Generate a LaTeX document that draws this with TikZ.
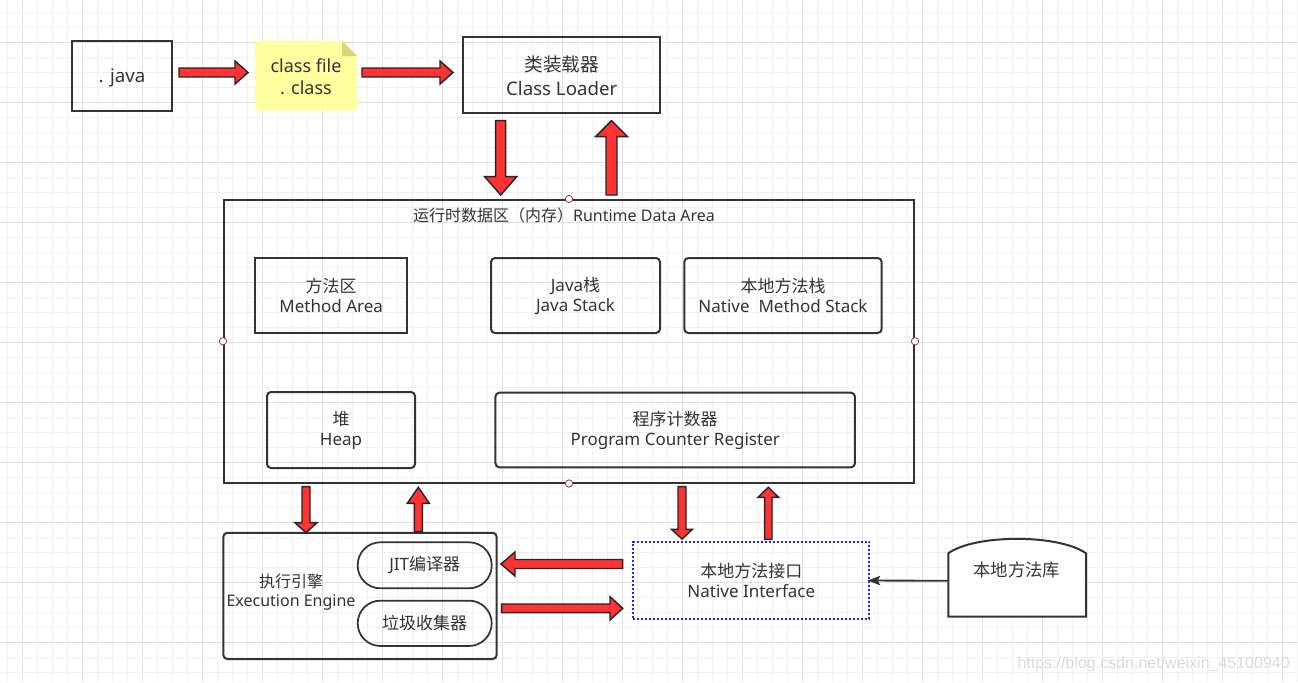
\documentclass[tikz,border=0pt]{standalone}
\usepackage{fontspec}
\setmainfont{Noto Sans}
\newfontfamily\cjk{Noto Sans CJK SC}
\newfontfamily\wmfont{Liberation Sans}
\usetikzlibrary{arrows.meta}
\definecolor{ink}{HTML}{333333}
\definecolor{fatred}{HTML}{FF3333}
\definecolor{notey}{HTML}{FFFFA0}
\definecolor{notefold}{HTML}{D6D67C}
\definecolor{gridmin}{HTML}{F0F0F0}
\definecolor{gridmaj}{HTML}{E0E0E0}
\definecolor{niblue}{HTML}{1F1FFF}
\definecolor{ptred}{HTML}{A33333}
\definecolor{wm}{HTML}{DADADA}
\newcommand{\hfat}[6]{\draw[fat] (#1,{#4-#5}) -- (#2,{#4-#5}) -- (#2,{#4-#6}) -- (#3,#4) -- (#2,{#4+#6}) -- (#2,{#4+#5}) -- (#1,{#4+#5}) -- cycle;}
\newcommand{\vfat}[6]{\draw[fat] ({#4-#5},#1) -- ({#4-#5},#2) -- ({#4-#6},#2) -- (#4,#3) -- ({#4+#6},#2) -- ({#4+#5},#2) -- ({#4+#5},#1) -- cycle;}
\begin{document}
\begin{tikzpicture}[x=0.75pt,y=-0.75pt,
  box/.style={draw=ink, line width=1.5pt, text=ink, align=center, inner sep=0pt},
  sqbox/.style={box},
  rbox/.style={box, rounded corners=3pt},
  pill/.style={box, line width=1.3pt, rounded corners=17pt},
  bigtxt/.style={font=\fontsize{14}{18}\selectfont},
  midtxt/.style={font=\fontsize{12.75}{15}\selectfont},
  smtxt/.style={font=\fontsize{12}{14.5}\selectfont},
  fat/.style={fill=fatred, draw=black!85, line width=1.1pt, line join=miter},
  cpt/.style={circle, draw=ptred, fill=white, line width=0.6pt, minimum size=5.5pt, inner sep=0pt},
  plain/.style={text=ink, align=center, inner sep=0pt},
  dotbox/.style={draw=niblue, line width=1.4pt, dash pattern=on 1.4pt off 1.6pt, text=ink, align=center, inner sep=0pt}
]
\useasboundingbox (0,0) rectangle (1298,682);
\fill[white] (0,0) rectangle (1298,682);
% grid
\foreach \i in {0,...,86} \draw[gridmin, line width=0.75pt] ({7.3+15*\i},0) -- ({7.3+15*\i},682);
\foreach \i in {0,...,44} \draw[gridmin, line width=0.75pt] (0,{12.3+15*\i}) -- (1298,{12.3+15*\i});
\foreach \i in {0,...,21} \draw[gridmaj, line width=0.75pt] ({22.3+60*\i},0) -- ({22.3+60*\i},682);
\foreach \i in {0,...,10} \draw[gridmaj, line width=0.75pt] (0,{42.3+60*\i}) -- (1298,{42.3+60*\i});

% top row
\node[sqbox, minimum width=75pt, minimum height=52.5pt] (java) at (122,75.8) {};
\node[plain, bigtxt] (javatxt) at (122,77.5) {. java};
\fill[notey] (255,41) -- (342,41) -- (357,56) -- (357,110.7) -- (255,110.7) -- cycle;
\fill[notefold] (342,41) -- (342,56) -- (357,56) -- cycle;
\node[plain, font=\fontsize{13.5}{16.5}\selectfont] (note) at (306,76.5) {class file\\. class};
\node[sqbox, bigtxt, minimum width=147.5pt, minimum height=57pt] (cl) at (561.7,75.3) {{\cjk 类装载器}\\Class Loader};

% runtime data area
\node[sqbox, minimum width=517.5pt, minimum height=211.9pt] (rt) at (569,341.25) {};
\node[plain, smtxt] (rttitle) at (564,215) {{\cjk 运行时数据区（内存）}Runtime Data Area};
\node[sqbox, midtxt, minimum width=114.4pt, minimum height=56.5pt] (ma) at (331.2,295.6) {{\cjk 方法区}\\Method Area};
\node[rbox, midtxt, minimum width=126.75pt, minimum height=56.25pt] (js) at (575.5,295.5) {Java{\cjk 栈}\\Java Stack};
\node[rbox, midtxt, minimum width=148pt, minimum height=56.25pt] (nms) at (783,295.5) {{\cjk 本地方法栈}\\Native\ \ Method Stack};
\node[rbox, midtxt, minimum width=111pt, minimum height=57pt] (heap) at (341,430) {{\cjk 堆}\\Heap};
\node[rbox, midtxt, minimum width=269.6pt, minimum height=56pt] (pc) at (675.2,430) {{\cjk 程序计数器}\\Program Counter Register};
\node[cpt] (c1) at (rt.north) {};
\node[cpt] (c2) at (rt.south) {};
\node[cpt] (c3) at (rt.west) {};
\node[cpt] (c4) at (rt.east) {};

% execution engine
\node[rbox, minimum width=205pt, minimum height=94.7pt] (ee) at (360,595.9) {};
\node[plain, smtxt] (eetxt) at (291,592) {{\cjk 执行引擎}\\Execution Engine};
\node[pill, midtxt, minimum width=100.5pt, minimum height=34.5pt] (jit) at (424.7,565.3) {JIT{\cjk 编译器}};
\node[pill, midtxt, minimum width=100.5pt, minimum height=34pt] (gc) at (424.7,623.3) {{\cjk 垃圾收集器}};

% native interface
\node[dotbox, font=\fontsize{12.75}{15.5}\selectfont, minimum width=177pt, minimum height=58.2pt] (ni) at (751.3,580.5) {{\cjk 本地方法接口}\\Native Interface};

% native library
\draw[ink, line width=1.5pt, fill=white] (948.3,616.7) -- (948.3,553.3) .. controls (975,534) and (1059,534) .. (1086,553.3) -- (1086,616.7) -- cycle;
\node[inner sep=0pt, minimum width=103.5pt, minimum height=53.8pt] (lib) at (1017.2,580.8) {};
\node[plain, font=\fontsize{13}{15}\selectfont] (libtxt) at (1016.7,570) {\cjk 本地方法库};
\draw[ink, line width=1.4pt, -{Stealth[length=9.5pt,width=7pt,inset=2pt]}, shorten >=-2pt] (lib.west) -- (ni.east);

% fat arrows
\hfat{179}{235}{248}{72.5}{4.5}{11.5}
\hfat{362}{440}{453}{72.5}{4.5}{11.5}
\vfat{120.7}{176.7}{195}{500.7}{5}{16}
\vfat{195}{136.7}{120.7}{611.5}{5.5}{16}
\vfat{486.7}{522.7}{532.7}{306}{4}{11}
\vfat{531.7}{503.3}{487.3}{418.3}{4}{11}
\vfat{486.7}{529.3}{539}{682}{4}{10.5}
\vfat{539.3}{497.3}{487.3}{768.3}{3.7}{10.3}
\hfat{622.7}{515}{501}{564}{4.5}{12}
\hfat{501.7}{610}{622.7}{608.3}{4.3}{11.7}

% watermark
\node[anchor=east, inner sep=0pt, text=wm, font=\wmfont\fontsize{12}{14}\selectfont] (wmk) at (1290,664) {https://blog.csdn.net/weixin\_45100940};
\end{tikzpicture}
\end{document}
